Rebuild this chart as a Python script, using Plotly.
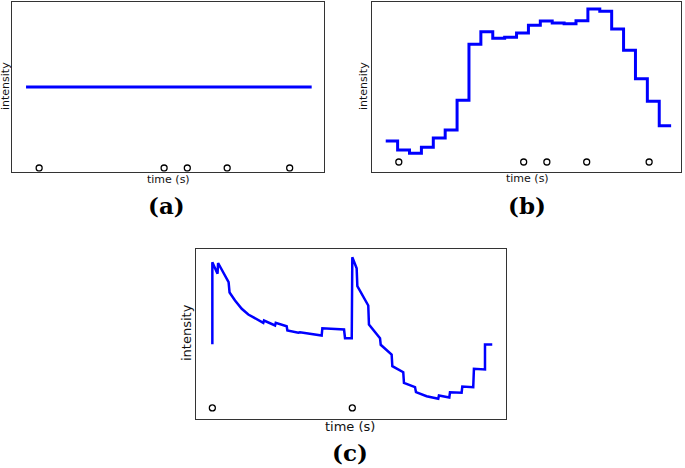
import plotly.graph_objects as go

W, H = 685, 468

# (a) constant signal, (b) stepped signal, (c) decaying signal with spikes
time_a = [0, 24]
intensity_a = [84.7, 84.7]
events_a = [1.1, 11.6, 13.55, 16.9, 22.15]

intensity_b = [30.7, 21.7, 18.4, 24.4, 33.7, 41.7, 71.4, 127.4, 140.0, 133.4, 134.4, 138.7,
               146.4, 150.7, 148.7, 148.0, 151.0, 162.7, 160.4, 142.7, 121.4, 93.0, 70.4, 46.0]
time_b = list(range(len(intensity_b) + 1))
events_b = [1.1, 11.6, 13.55, 16.9, 22.15]

time_c = [0, 0, 0.37, 0.41, 1.16, 1.23, 1.62, 2.1, 2.57, 3.05, 3.64, 3.69, 4.48, 4.53, 5.31,
          5.36, 6.14, 6.26, 7.81, 7.86, 9.41, 9.48, 9.96, 10.0, 10.31, 10.36, 11.14, 11.19,
          11.98, 12.03, 12.81, 12.86, 13.64, 13.69, 14.48, 14.55, 15.31, 16.14, 16.19, 16.93,
          16.98, 17.81, 17.86, 18.64, 18.69, 19.48, 19.48, 20.0]
intensity_c = [74.3, 156.3, 144.7, 155.5, 136.3, 126.0, 118.0, 109.7, 104.0, 100.0, 95.7, 98.0,
               93.0, 95.7, 92.3, 88.0, 85.7, 86.3, 83.0, 90.3, 89.0, 80.3, 80.3, 161.3, 150.3,
               132.3, 113.0, 94.0, 80.3, 73.7, 64.0, 52.3, 46.3, 35.7, 31.3, 26.3, 22.3, 19.7,
               23.0, 21.0, 26.3, 25.7, 32.0, 31.3, 49.7, 49.0, 74.0, 74.0]
events_c = [0, 10]


def px_x(x):
    return x / W


def px_y(y):
    return 1 - y / H


blue = "#0000ff"
marker = dict(symbol="circle-open", size=6, color="black", line=dict(width=1.3, color="black"))

fig = go.Figure()
fig.add_trace(go.Scatter(x=time_a, y=intensity_a, mode="lines", line=dict(color=blue, width=3),
                         xaxis="x", yaxis="y"))
fig.add_trace(go.Scatter(x=events_a, y=[3.7] * len(events_a), mode="markers", marker=marker,
                         xaxis="x", yaxis="y"))
fig.add_trace(go.Scatter(x=time_b, y=intensity_b + [intensity_b[-1]], mode="lines", line_shape="hv",
                         line=dict(color=blue, width=3), xaxis="x2", yaxis="y2"))
fig.add_trace(go.Scatter(x=events_b, y=[9.7] * len(events_b), mode="markers", marker=marker,
                         xaxis="x2", yaxis="y2"))
fig.add_trace(go.Scatter(x=time_c, y=intensity_c, mode="lines", line=dict(color=blue, width=2.5),
                         xaxis="x3", yaxis="y3"))
fig.add_trace(go.Scatter(x=events_c, y=[10.6] * len(events_c), mode="markers", marker=marker,
                         xaxis="x3", yaxis="y3"))

ax = dict(showline=True, mirror=True, linecolor="#333", linewidth=1.2, showgrid=False,
          zeroline=False, showticklabels=False, ticks="", fixedrange=True)

fig.update_layout(
    width=W, height=H, margin=dict(l=0, r=0, t=0, b=0),
    paper_bgcolor="white", plot_bgcolor="white", showlegend=False,
    xaxis=dict(ax, domain=[px_x(12), px_x(324.3)], range=[-1.18, 25.06]),
    yaxis=dict(ax, domain=[px_y(171.7), px_y(1.5)], range=[0, 170.2]),
    xaxis2=dict(ax, domain=[px_x(371.7), px_x(681)], range=[-1.18, 24.83], anchor="y2"),
    yaxis2=dict(ax, domain=[px_y(171.7), px_y(1.5)], range=[0, 170.2], anchor="x2"),
    xaxis3=dict(ax, domain=[px_x(195.7), px_x(505.7)], range=[-1.19, 20.96], anchor="y3"),
    yaxis3=dict(ax, domain=[px_y(418.5), px_y(249.3)], range=[0, 169.2], anchor="x3"),
)

small = dict(family="DejaVu Sans", size=11, color="#111")
big = dict(family="DejaVu Sans", size=13, color="#111")
label = dict(family="DejaVu Serif", size=23, color="black")

texts = [
    ("time (s)", 168, 179, 0, small),
    ("intensity", 5, 86, -90, small),
    ("time (s)", 527, 178, 0, small),
    ("intensity", 363, 86, -90, small),
    ("time (s)", 350, 426, 0, big),
    ("intensity", 186, 333, -90, big),
    ("<b>(a)</b>", 166, 205, 0, label),
    ("<b>(b)</b>", 527, 205, 0, label),
    ("<b>(c)</b>", 350, 452, 0, label),
]
for t, x, y, ang, f in texts:
    fig.add_annotation(text=t, x=px_x(x), y=px_y(y), xref="paper", yref="paper",
                       xanchor="center", yanchor="middle", showarrow=False, textangle=ang, font=f)

# the page's default body margin would push the figure off the window
fig.write_html("out.html", config={"displayModeBar": False},
               post_script="document.body.style.margin='0';document.body.style.overflow='hidden';")
